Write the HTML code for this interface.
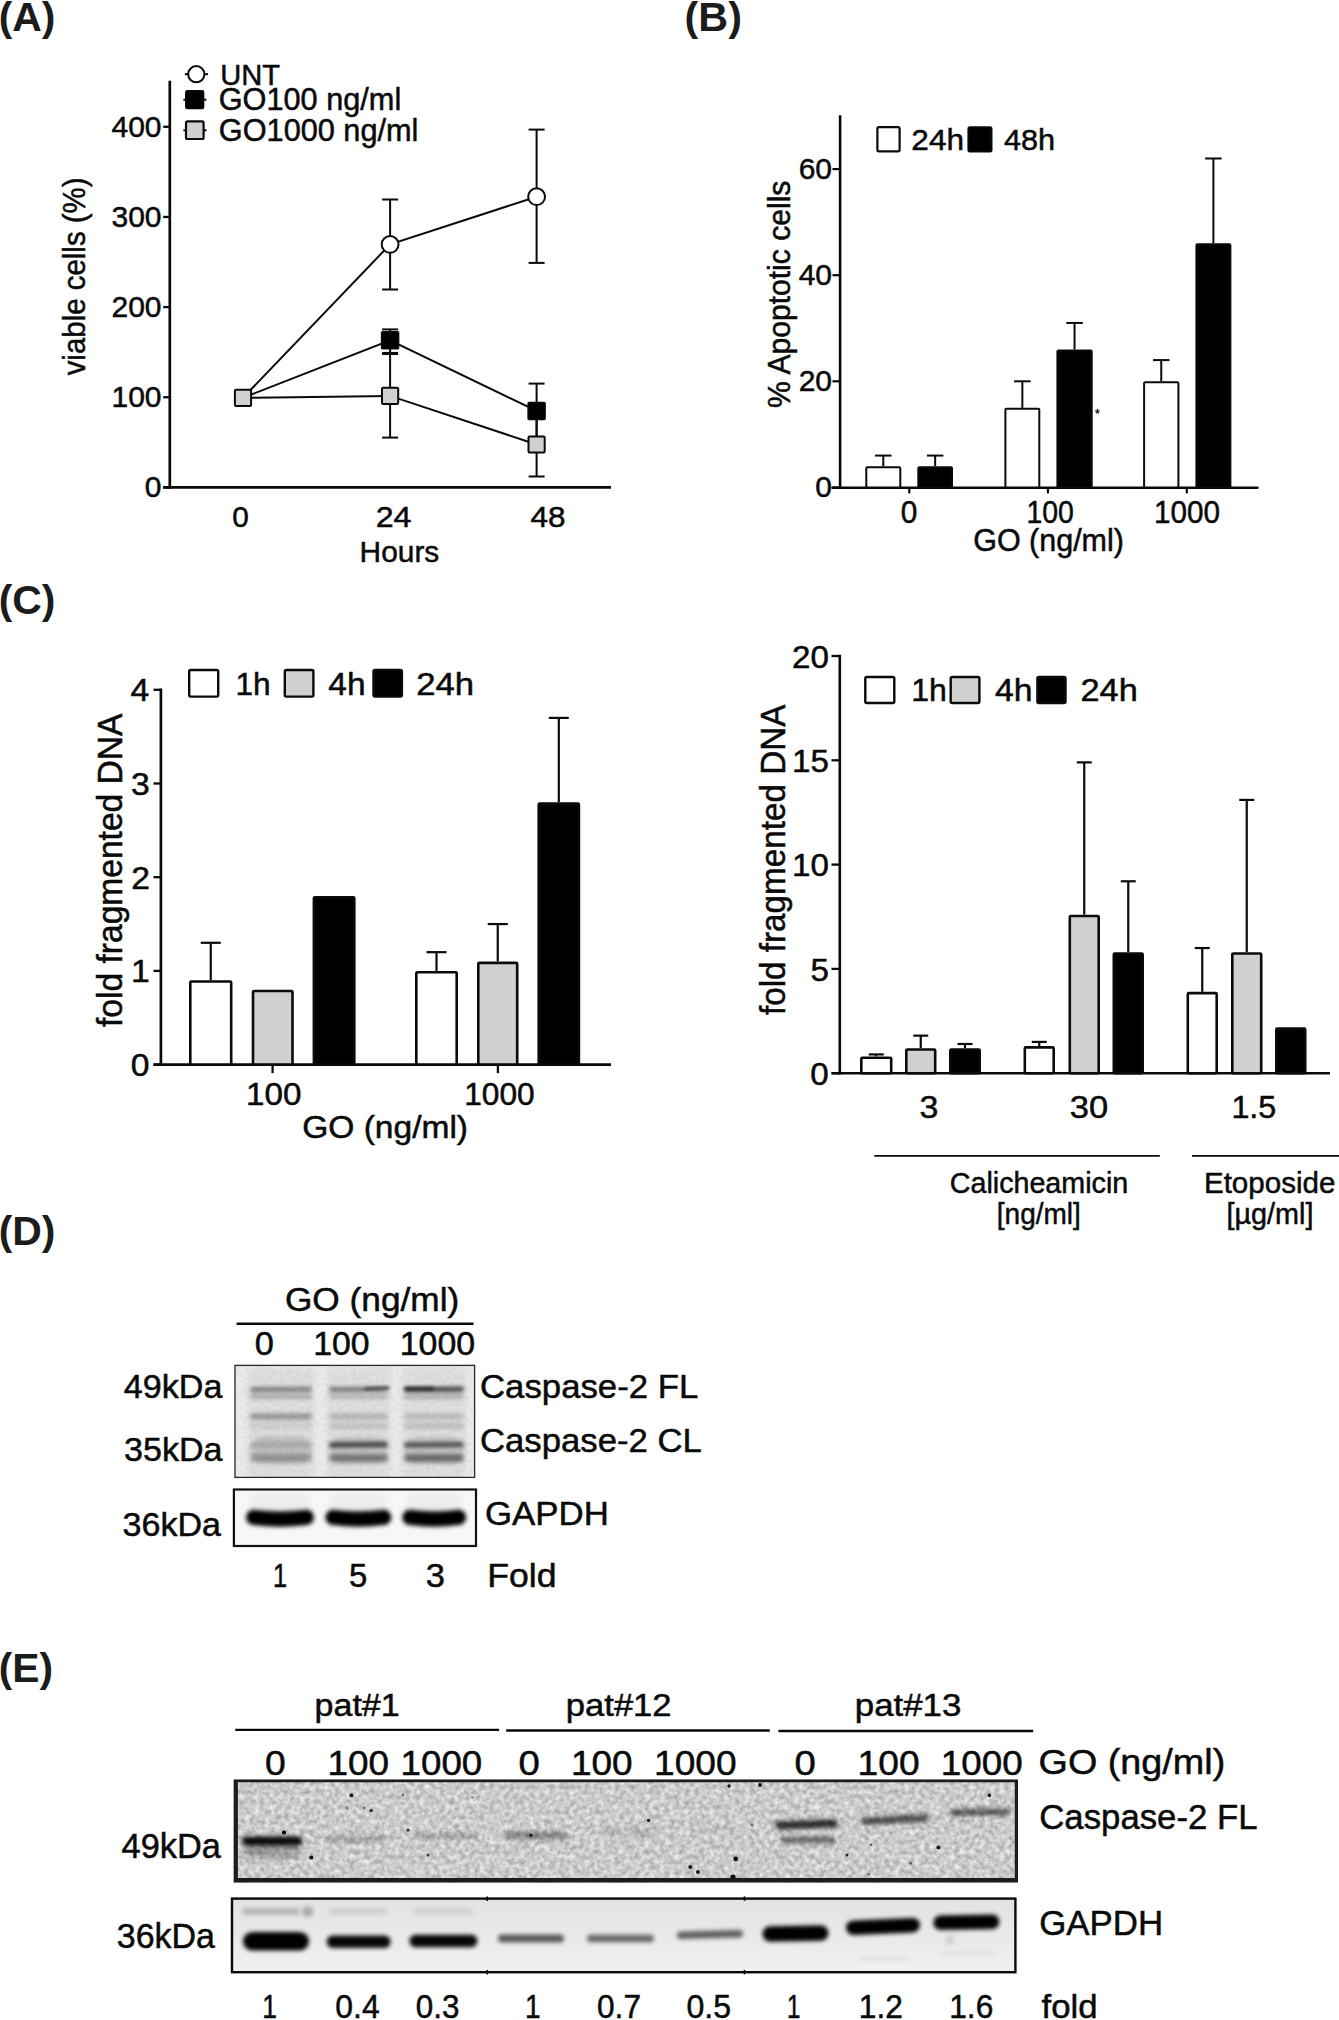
<!DOCTYPE html>
<html><head><meta charset="utf-8"><title>Figure</title>
<style>html,body{margin:0;padding:0;background:#fff}svg{display:block}</style></head><body>
<svg width="1339" height="2020" viewBox="0 0 1339 2020" font-family="Liberation Sans, sans-serif">
<defs>
<filter id="b1" x="-30%" y="-300%" width="160%" height="700%"><feGaussianBlur stdDeviation="1.2"/></filter>
<filter id="b2" x="-30%" y="-300%" width="160%" height="700%"><feGaussianBlur stdDeviation="2"/></filter>
<filter id="b3" x="-30%" y="-300%" width="160%" height="700%"><feGaussianBlur stdDeviation="3"/></filter>
<filter id="b5" x="-30%" y="-300%" width="160%" height="700%"><feGaussianBlur stdDeviation="5"/></filter>
<filter id="d1" x="-100%" y="-100%" width="300%" height="300%"><feGaussianBlur stdDeviation="0.6"/></filter>
<filter id="nz" x="0" y="0" width="100%" height="100%" color-interpolation-filters="sRGB"><feTurbulence type="fractalNoise" baseFrequency="0.2" numOctaves="2" seed="7"/><feColorMatrix type="matrix" values="0.42 0 0 0 0.585  0.42 0 0 0 0.585  0.42 0 0 0 0.585  0 0 0 0 1"/><feGaussianBlur stdDeviation="0.7"/></filter>
<filter id="nd" x="0" y="0" width="100%" height="100%" color-interpolation-filters="sRGB"><feTurbulence type="fractalNoise" baseFrequency="0.3" numOctaves="2" seed="11"/><feColorMatrix type="matrix" values="0.09 0 0 0 0.865  0.09 0 0 0 0.865  0.09 0 0 0 0.865  0 0 0 0 1"/><feGaussianBlur stdDeviation="0.6"/></filter>
<linearGradient id="ge2" x1="0" y1="0" x2="0" y2="1"><stop offset="0" stop-color="#e2e2e2"/><stop offset="1" stop-color="#f1f1f1"/></linearGradient>
</defs>
<rect x="0" y="0" width="1339" height="2020" fill="#fff"/>
<text font-size="41" text-anchor="start" fill="#1c1c1c" font-weight="bold" transform="translate(-1.35 30.60) scale(0.9983 1)">(A)</text>
<text font-size="41" text-anchor="start" fill="#1c1c1c" font-weight="bold" transform="translate(684.53 30.60) scale(1.0078 1)">(B)</text>
<text font-size="41" text-anchor="start" fill="#1c1c1c" font-weight="bold" transform="translate(-1.35 614.30) scale(0.9983 1)">(C)</text>
<text font-size="41" text-anchor="start" fill="#1c1c1c" font-weight="bold" transform="translate(-1.35 1244.80) scale(0.9983 1)">(D)</text>
<text font-size="41" text-anchor="start" fill="#1c1c1c" font-weight="bold" transform="translate(-1.34 1682.40) scale(0.9954 1)">(E)</text>
<line x1="169.80" y1="80.70" x2="169.80" y2="488.70" stroke="#0a0a0a" stroke-width="2.7" stroke-linecap="butt"/>
<line x1="163.20" y1="487.40" x2="611.00" y2="487.40" stroke="#0a0a0a" stroke-width="2.7" stroke-linecap="butt"/>
<line x1="163.20" y1="487.40" x2="169.80" y2="487.40" stroke="#0a0a0a" stroke-width="2.3" stroke-linecap="butt"/>
<text font-size="30" text-anchor="start" fill="#0a0a0a" stroke="#0a0a0a" stroke-width="0.5" transform="translate(144.80 497.10) scale(1.0000 1)">0</text>
<line x1="163.20" y1="397.25" x2="169.80" y2="397.25" stroke="#0a0a0a" stroke-width="2.3" stroke-linecap="butt"/>
<text font-size="30" text-anchor="start" fill="#0a0a0a" stroke="#0a0a0a" stroke-width="0.5" transform="translate(111.50 406.95) scale(1.0000 1)">100</text>
<line x1="163.20" y1="307.10" x2="169.80" y2="307.10" stroke="#0a0a0a" stroke-width="2.3" stroke-linecap="butt"/>
<text font-size="30" text-anchor="start" fill="#0a0a0a" stroke="#0a0a0a" stroke-width="0.5" transform="translate(111.50 316.80) scale(1.0000 1)">200</text>
<line x1="163.20" y1="216.95" x2="169.80" y2="216.95" stroke="#0a0a0a" stroke-width="2.3" stroke-linecap="butt"/>
<text font-size="30" text-anchor="start" fill="#0a0a0a" stroke="#0a0a0a" stroke-width="0.5" transform="translate(111.50 226.65) scale(1.0000 1)">300</text>
<line x1="163.20" y1="126.80" x2="169.80" y2="126.80" stroke="#0a0a0a" stroke-width="2.3" stroke-linecap="butt"/>
<text font-size="30" text-anchor="start" fill="#0a0a0a" stroke="#0a0a0a" stroke-width="0.5" transform="translate(111.50 136.50) scale(1.0000 1)">400</text>
<text font-size="31" text-anchor="start" fill="#0a0a0a" stroke="#0a0a0a" stroke-width="0.5" transform="translate(84.80 375.35) rotate(-90) scale(0.9500 1)">viable cells (%)</text>
<line x1="390.10" y1="199.50" x2="390.10" y2="289.50" stroke="#0a0a0a" stroke-width="2" stroke-linecap="butt"/>
<line x1="382.10" y1="199.50" x2="398.10" y2="199.50" stroke="#0a0a0a" stroke-width="2" stroke-linecap="butt"/>
<line x1="382.10" y1="289.50" x2="398.10" y2="289.50" stroke="#0a0a0a" stroke-width="2" stroke-linecap="butt"/>
<line x1="536.60" y1="129.60" x2="536.60" y2="262.90" stroke="#0a0a0a" stroke-width="2" stroke-linecap="butt"/>
<line x1="528.60" y1="129.60" x2="544.60" y2="129.60" stroke="#0a0a0a" stroke-width="2" stroke-linecap="butt"/>
<line x1="528.60" y1="262.90" x2="544.60" y2="262.90" stroke="#0a0a0a" stroke-width="2" stroke-linecap="butt"/>
<line x1="390.10" y1="329.40" x2="390.10" y2="352.90" stroke="#0a0a0a" stroke-width="2" stroke-linecap="butt"/>
<line x1="382.10" y1="329.40" x2="398.10" y2="329.40" stroke="#0a0a0a" stroke-width="2" stroke-linecap="butt"/>
<line x1="382.10" y1="352.90" x2="398.10" y2="352.90" stroke="#0a0a0a" stroke-width="2" stroke-linecap="butt"/>
<line x1="536.60" y1="383.60" x2="536.60" y2="438.00" stroke="#0a0a0a" stroke-width="2" stroke-linecap="butt"/>
<line x1="528.60" y1="383.60" x2="544.60" y2="383.60" stroke="#0a0a0a" stroke-width="2" stroke-linecap="butt"/>
<line x1="528.60" y1="438.00" x2="544.60" y2="438.00" stroke="#0a0a0a" stroke-width="2" stroke-linecap="butt"/>
<line x1="390.10" y1="354.00" x2="390.10" y2="437.60" stroke="#0a0a0a" stroke-width="2" stroke-linecap="butt"/>
<line x1="382.10" y1="354.00" x2="398.10" y2="354.00" stroke="#0a0a0a" stroke-width="2" stroke-linecap="butt"/>
<line x1="382.10" y1="437.60" x2="398.10" y2="437.60" stroke="#0a0a0a" stroke-width="2" stroke-linecap="butt"/>
<line x1="536.60" y1="412.50" x2="536.60" y2="476.50" stroke="#0a0a0a" stroke-width="2" stroke-linecap="butt"/>
<line x1="528.60" y1="412.50" x2="544.60" y2="412.50" stroke="#0a0a0a" stroke-width="2" stroke-linecap="butt"/>
<line x1="528.60" y1="476.50" x2="544.60" y2="476.50" stroke="#0a0a0a" stroke-width="2" stroke-linecap="butt"/>
<polyline points="243,397.8 390.1,244.4 536.6,196.7" fill="none" stroke="#0a0a0a" stroke-width="2"/>
<polyline points="243,397.8 390.1,340.3 536.6,410.9" fill="none" stroke="#0a0a0a" stroke-width="2"/>
<polyline points="243,397.8 390.1,395.9 536.6,444.5" fill="none" stroke="#0a0a0a" stroke-width="2"/>
<circle cx="390.1" cy="244.4" r="8.4" fill="#fff" stroke="#0a0a0a" stroke-width="2"/>
<circle cx="536.6" cy="196.7" r="8.4" fill="#fff" stroke="#0a0a0a" stroke-width="2"/>
<rect x="381.60" y="331.80" width="17.00" height="17.00" fill="#000" stroke="#0a0a0a" stroke-width="1.5" rx="1" />
<rect x="528.10" y="402.40" width="17.00" height="17.00" fill="#000" stroke="#0a0a0a" stroke-width="1.5" rx="1" />
<rect x="234.90" y="389.70" width="16.20" height="16.20" fill="#d0d0d0" stroke="#0a0a0a" stroke-width="2" rx="1" />
<rect x="382.00" y="387.80" width="16.20" height="16.20" fill="#d0d0d0" stroke="#0a0a0a" stroke-width="2" rx="1" />
<rect x="528.50" y="436.40" width="16.20" height="16.20" fill="#d0d0d0" stroke="#0a0a0a" stroke-width="2" rx="1" />
<line x1="184.80" y1="74.20" x2="208.00" y2="74.20" stroke="#0a0a0a" stroke-width="2" stroke-linecap="butt"/>
<circle cx="196.3" cy="74.2" r="8.1" fill="#fff" stroke="#0a0a0a" stroke-width="2"/>
<line x1="183.40" y1="99.70" x2="206.50" y2="99.70" stroke="#0a0a0a" stroke-width="2" stroke-linecap="butt"/>
<rect x="185.80" y="90.70" width="17.80" height="17.80" fill="#000" stroke="#0a0a0a" stroke-width="1.5" rx="1.5" />
<line x1="183.40" y1="130.30" x2="206.50" y2="130.30" stroke="#0a0a0a" stroke-width="2" stroke-linecap="butt"/>
<rect x="186.00" y="121.40" width="17.60" height="17.60" fill="#d0d0d0" stroke="#0a0a0a" stroke-width="2.2" rx="1.5" />
<text font-size="30.4" text-anchor="start" fill="#0a0a0a" stroke="#0a0a0a" stroke-width="0.5" transform="translate(220.22 84.60) scale(0.9583 1)">UNT</text>
<text font-size="30.6" text-anchor="start" fill="#0a0a0a" stroke="#0a0a0a" stroke-width="0.5" transform="translate(218.66 110.20) scale(1.0034 1)">GO100 ng/ml</text>
<text font-size="30.6" text-anchor="start" fill="#0a0a0a" stroke="#0a0a0a" stroke-width="0.5" transform="translate(218.87 140.80) scale(1.0032 1)">GO1000 ng/ml</text>
<text font-size="30" text-anchor="start" fill="#0a0a0a" stroke="#0a0a0a" stroke-width="0.5" transform="translate(232.21 526.90) scale(0.9931 1)">0</text>
<text font-size="30" text-anchor="start" fill="#0a0a0a" stroke="#0a0a0a" stroke-width="0.5" transform="translate(375.69 526.90) scale(1.0712 1)">24</text>
<text font-size="30" text-anchor="start" fill="#0a0a0a" stroke="#0a0a0a" stroke-width="0.5" transform="translate(530.47 526.90) scale(1.0508 1)">48</text>
<text font-size="30.4" text-anchor="start" fill="#0a0a0a" stroke="#0a0a0a" stroke-width="0.5" transform="translate(359.61 562.10) scale(0.9823 1)">Hours</text>
<line x1="840.10" y1="115.20" x2="840.10" y2="488.60" stroke="#0a0a0a" stroke-width="2.6" stroke-linecap="butt"/>
<line x1="832.50" y1="487.70" x2="1257.50" y2="487.70" stroke="#0a0a0a" stroke-width="2.4" stroke-linecap="round"/>
<line x1="832.50" y1="487.40" x2="840.10" y2="487.40" stroke="#0a0a0a" stroke-width="2.2" stroke-linecap="butt"/>
<text font-size="30" text-anchor="start" fill="#0a0a0a" stroke="#0a0a0a" stroke-width="0.5" transform="translate(815.30 497.10) scale(1.0000 1)">0</text>
<line x1="832.50" y1="381.30" x2="840.10" y2="381.30" stroke="#0a0a0a" stroke-width="2.2" stroke-linecap="butt"/>
<text font-size="30" text-anchor="start" fill="#0a0a0a" stroke="#0a0a0a" stroke-width="0.5" transform="translate(798.65 391.00) scale(1.0000 1)">20</text>
<line x1="832.50" y1="275.20" x2="840.10" y2="275.20" stroke="#0a0a0a" stroke-width="2.2" stroke-linecap="butt"/>
<text font-size="30" text-anchor="start" fill="#0a0a0a" stroke="#0a0a0a" stroke-width="0.5" transform="translate(798.65 284.90) scale(1.0000 1)">40</text>
<line x1="832.50" y1="169.10" x2="840.10" y2="169.10" stroke="#0a0a0a" stroke-width="2.2" stroke-linecap="butt"/>
<text font-size="30" text-anchor="start" fill="#0a0a0a" stroke="#0a0a0a" stroke-width="0.5" transform="translate(798.65 178.80) scale(1.0000 1)">60</text>
<line x1="909.30" y1="487.40" x2="909.30" y2="493.40" stroke="#0a0a0a" stroke-width="2.2" stroke-linecap="butt"/>
<line x1="1047.90" y1="487.40" x2="1047.90" y2="493.40" stroke="#0a0a0a" stroke-width="2.2" stroke-linecap="butt"/>
<line x1="1186.80" y1="487.40" x2="1186.80" y2="493.40" stroke="#0a0a0a" stroke-width="2.2" stroke-linecap="butt"/>
<text font-size="31.5" text-anchor="start" fill="#0a0a0a" stroke="#0a0a0a" stroke-width="0.5" transform="translate(789.50 408.05) rotate(-90) scale(0.9553 1)">% Apoptotic cells</text>
<line x1="883.30" y1="455.57" x2="883.30" y2="466.18" stroke="#0a0a0a" stroke-width="2" stroke-linecap="butt"/>
<line x1="875.05" y1="455.57" x2="891.55" y2="455.57" stroke="#0a0a0a" stroke-width="2" stroke-linecap="butt"/>
<rect x="866.30" y="467.18" width="34.00" height="20.22" fill="#fff" stroke="#0a0a0a" stroke-width="2" rx="1" />
<line x1="935.15" y1="455.57" x2="935.15" y2="466.18" stroke="#0a0a0a" stroke-width="2" stroke-linecap="butt"/>
<line x1="926.90" y1="455.57" x2="943.40" y2="455.57" stroke="#0a0a0a" stroke-width="2" stroke-linecap="butt"/>
<rect x="918.30" y="467.18" width="33.70" height="20.22" fill="#000" stroke="#0a0a0a" stroke-width="2" rx="1" />
<line x1="1022.35" y1="381.30" x2="1022.35" y2="407.82" stroke="#0a0a0a" stroke-width="2" stroke-linecap="butt"/>
<line x1="1014.10" y1="381.30" x2="1030.60" y2="381.30" stroke="#0a0a0a" stroke-width="2" stroke-linecap="butt"/>
<rect x="1005.40" y="408.82" width="33.90" height="78.57" fill="#fff" stroke="#0a0a0a" stroke-width="2" rx="1" />
<line x1="1074.55" y1="322.94" x2="1074.55" y2="349.47" stroke="#0a0a0a" stroke-width="2" stroke-linecap="butt"/>
<line x1="1066.30" y1="322.94" x2="1082.80" y2="322.94" stroke="#0a0a0a" stroke-width="2" stroke-linecap="butt"/>
<rect x="1057.40" y="350.47" width="34.30" height="136.93" fill="#000" stroke="#0a0a0a" stroke-width="2" rx="1" />
<line x1="1161.25" y1="360.08" x2="1161.25" y2="381.30" stroke="#0a0a0a" stroke-width="2" stroke-linecap="butt"/>
<line x1="1153.00" y1="360.08" x2="1169.50" y2="360.08" stroke="#0a0a0a" stroke-width="2" stroke-linecap="butt"/>
<rect x="1144.10" y="382.30" width="34.30" height="105.10" fill="#fff" stroke="#0a0a0a" stroke-width="2" rx="1" />
<line x1="1213.40" y1="158.49" x2="1213.40" y2="243.37" stroke="#0a0a0a" stroke-width="2" stroke-linecap="butt"/>
<line x1="1205.15" y1="158.49" x2="1221.65" y2="158.49" stroke="#0a0a0a" stroke-width="2" stroke-linecap="butt"/>
<rect x="1196.40" y="244.37" width="34.00" height="243.03" fill="#000" stroke="#0a0a0a" stroke-width="2" rx="1" />
<text font-size="12" text-anchor="middle" fill="#0a0a0a" stroke="#0a0a0a" stroke-width="0.3" transform="translate(1097.30 417.50)">*</text>
<rect x="877.40" y="127.20" width="22.20" height="24.10" fill="#fff" stroke="#0a0a0a" stroke-width="2.2" rx="1.5" />
<rect x="968.40" y="127.30" width="23.10" height="24.30" fill="#000" stroke="#0a0a0a" stroke-width="2" rx="1.5" />
<text font-size="30" text-anchor="start" fill="#0a0a0a" stroke="#0a0a0a" stroke-width="0.5" transform="translate(911.32 150.20) scale(1.0538 1)">24h</text>
<text font-size="30" text-anchor="start" fill="#0a0a0a" stroke="#0a0a0a" stroke-width="0.5" transform="translate(1003.99 150.20) scale(1.0211 1)">48h</text>
<text font-size="31.5" text-anchor="start" fill="#0a0a0a" stroke="#0a0a0a" stroke-width="0.5" transform="translate(900.81 522.90) scale(0.9458 1)">0</text>
<text font-size="31.5" text-anchor="start" fill="#0a0a0a" stroke="#0a0a0a" stroke-width="0.5" transform="translate(1026.47 522.90) scale(0.9024 1)">100</text>
<text font-size="31.5" text-anchor="start" fill="#0a0a0a" stroke="#0a0a0a" stroke-width="0.5" transform="translate(1153.97 522.90) scale(0.9426 1)">1000</text>
<text font-size="30.5" text-anchor="start" fill="#0a0a0a" stroke="#0a0a0a" stroke-width="0.5" transform="translate(973.18 550.50) scale(0.9999 1)">GO (ng/ml)</text>
<line x1="160.90" y1="688.40" x2="160.90" y2="1065.90" stroke="#0a0a0a" stroke-width="2.7" stroke-linecap="butt"/>
<line x1="153.50" y1="1064.60" x2="611.00" y2="1064.60" stroke="#0a0a0a" stroke-width="2.7" stroke-linecap="butt"/>
<line x1="153.50" y1="1064.60" x2="160.90" y2="1064.60" stroke="#0a0a0a" stroke-width="2.3" stroke-linecap="butt"/>
<text font-size="31.5" text-anchor="start" fill="#0a0a0a" stroke="#0a0a0a" stroke-width="0.5" transform="translate(130.77 1075.90) scale(1.0700 1)">0</text>
<line x1="153.50" y1="970.90" x2="160.90" y2="970.90" stroke="#0a0a0a" stroke-width="2.3" stroke-linecap="butt"/>
<text font-size="31.5" text-anchor="start" fill="#0a0a0a" stroke="#0a0a0a" stroke-width="0.5" transform="translate(131.11 982.20) scale(1.0700 1)">1</text>
<line x1="153.50" y1="877.20" x2="160.90" y2="877.20" stroke="#0a0a0a" stroke-width="2.3" stroke-linecap="butt"/>
<text font-size="31.5" text-anchor="start" fill="#0a0a0a" stroke="#0a0a0a" stroke-width="0.5" transform="translate(131.28 888.50) scale(1.0700 1)">2</text>
<line x1="153.50" y1="783.50" x2="160.90" y2="783.50" stroke="#0a0a0a" stroke-width="2.3" stroke-linecap="butt"/>
<text font-size="31.5" text-anchor="start" fill="#0a0a0a" stroke="#0a0a0a" stroke-width="0.5" transform="translate(130.94 794.80) scale(1.0700 1)">3</text>
<line x1="153.50" y1="689.80" x2="160.90" y2="689.80" stroke="#0a0a0a" stroke-width="2.3" stroke-linecap="butt"/>
<text font-size="31.5" text-anchor="start" fill="#0a0a0a" stroke="#0a0a0a" stroke-width="0.5" transform="translate(130.60 701.10) scale(1.0700 1)">4</text>
<line x1="272.60" y1="1064.60" x2="272.60" y2="1073.10" stroke="#0a0a0a" stroke-width="2.3" stroke-linecap="butt"/>
<line x1="497.90" y1="1064.60" x2="497.90" y2="1073.10" stroke="#0a0a0a" stroke-width="2.3" stroke-linecap="butt"/>
<text font-size="34.5" text-anchor="start" fill="#0a0a0a" stroke="#0a0a0a" stroke-width="0.5" transform="translate(121.60 1027.00) rotate(-90) scale(0.9734 1)">fold fragmented DNA</text>
<line x1="210.75" y1="942.79" x2="210.75" y2="980.27" stroke="#0a0a0a" stroke-width="2.2" stroke-linecap="butt"/>
<line x1="200.75" y1="942.79" x2="220.75" y2="942.79" stroke="#0a0a0a" stroke-width="2.2" stroke-linecap="butt"/>
<rect x="190.30" y="981.57" width="40.90" height="83.03" fill="#fff" stroke="#0a0a0a" stroke-width="2.6" rx="1" />
<rect x="253.00" y="990.94" width="39.50" height="73.66" fill="#d0d0d0" stroke="#0a0a0a" stroke-width="2.6" rx="1" />
<rect x="313.90" y="897.24" width="40.40" height="167.36" fill="#000" stroke="#0a0a0a" stroke-width="2.6" rx="1" />
<line x1="436.50" y1="952.16" x2="436.50" y2="970.90" stroke="#0a0a0a" stroke-width="2.2" stroke-linecap="butt"/>
<line x1="426.50" y1="952.16" x2="446.50" y2="952.16" stroke="#0a0a0a" stroke-width="2.2" stroke-linecap="butt"/>
<rect x="416.30" y="972.20" width="40.40" height="92.40" fill="#fff" stroke="#0a0a0a" stroke-width="2.6" rx="1" />
<line x1="497.75" y1="924.05" x2="497.75" y2="961.53" stroke="#0a0a0a" stroke-width="2.2" stroke-linecap="butt"/>
<line x1="487.75" y1="924.05" x2="507.75" y2="924.05" stroke="#0a0a0a" stroke-width="2.2" stroke-linecap="butt"/>
<rect x="478.30" y="962.83" width="38.90" height="101.77" fill="#d0d0d0" stroke="#0a0a0a" stroke-width="2.6" rx="1" />
<line x1="558.80" y1="717.91" x2="558.80" y2="802.24" stroke="#0a0a0a" stroke-width="2.2" stroke-linecap="butt"/>
<line x1="548.80" y1="717.91" x2="568.80" y2="717.91" stroke="#0a0a0a" stroke-width="2.2" stroke-linecap="butt"/>
<rect x="538.70" y="803.54" width="40.20" height="261.06" fill="#000" stroke="#0a0a0a" stroke-width="2.6" rx="1" />
<rect x="189.20" y="670.00" width="29.00" height="26.60" fill="#fff" stroke="#0a0a0a" stroke-width="2.4" rx="1.5" />
<rect x="284.80" y="670.00" width="28.60" height="26.60" fill="#d0d0d0" stroke="#0a0a0a" stroke-width="2.4" rx="1.5" />
<rect x="373.50" y="670.00" width="28.40" height="26.60" fill="#000" stroke="#0a0a0a" stroke-width="2.4" rx="1.5" />
<text font-size="32" text-anchor="start" fill="#0a0a0a" stroke="#0a0a0a" stroke-width="0.5" transform="translate(235.53 694.80) scale(0.9890 1)">1h</text>
<text font-size="32" text-anchor="start" fill="#0a0a0a" stroke="#0a0a0a" stroke-width="0.5" transform="translate(328.33 694.80) scale(1.0457 1)">4h</text>
<text font-size="32" text-anchor="start" fill="#0a0a0a" stroke="#0a0a0a" stroke-width="0.5" transform="translate(416.26 694.80) scale(1.0847 1)">24h</text>
<text font-size="30.8" text-anchor="start" fill="#0a0a0a" stroke="#0a0a0a" stroke-width="0.5" transform="translate(246.01 1104.70) scale(1.0795 1)">100</text>
<text font-size="30.8" text-anchor="start" fill="#0a0a0a" stroke="#0a0a0a" stroke-width="0.5" transform="translate(464.22 1104.70) scale(1.0285 1)">1000</text>
<text font-size="30.5" text-anchor="start" fill="#0a0a0a" stroke="#0a0a0a" stroke-width="0.5" transform="translate(302.22 1138.30) scale(1.0997 1)">GO (ng/ml)</text>
<line x1="839.80" y1="654.80" x2="839.80" y2="1074.50" stroke="#0a0a0a" stroke-width="2.6" stroke-linecap="butt"/>
<line x1="831.50" y1="1073.20" x2="1330.00" y2="1073.20" stroke="#0a0a0a" stroke-width="2.6" stroke-linecap="butt"/>
<line x1="831.50" y1="1073.20" x2="839.80" y2="1073.20" stroke="#0a0a0a" stroke-width="2.3" stroke-linecap="butt"/>
<text font-size="31.3" text-anchor="start" fill="#0a0a0a" stroke="#0a0a0a" stroke-width="0.5" transform="translate(810.35 1084.80) scale(1.0600 1)">0</text>
<line x1="831.50" y1="968.90" x2="839.80" y2="968.90" stroke="#0a0a0a" stroke-width="2.3" stroke-linecap="butt"/>
<text font-size="31.3" text-anchor="start" fill="#0a0a0a" stroke="#0a0a0a" stroke-width="0.5" transform="translate(810.51 980.50) scale(1.0600 1)">5</text>
<line x1="831.50" y1="864.60" x2="839.80" y2="864.60" stroke="#0a0a0a" stroke-width="2.3" stroke-linecap="butt"/>
<text font-size="31.3" text-anchor="start" fill="#0a0a0a" stroke="#0a0a0a" stroke-width="0.5" transform="translate(791.93 876.20) scale(1.0600 1)">10</text>
<line x1="831.50" y1="760.30" x2="839.80" y2="760.30" stroke="#0a0a0a" stroke-width="2.3" stroke-linecap="butt"/>
<text font-size="31.3" text-anchor="start" fill="#0a0a0a" stroke="#0a0a0a" stroke-width="0.5" transform="translate(792.10 771.90) scale(1.0600 1)">15</text>
<line x1="831.50" y1="656.00" x2="839.80" y2="656.00" stroke="#0a0a0a" stroke-width="2.3" stroke-linecap="butt"/>
<text font-size="31.3" text-anchor="start" fill="#0a0a0a" stroke="#0a0a0a" stroke-width="0.5" transform="translate(791.93 667.60) scale(1.0600 1)">20</text>
<text font-size="34.5" text-anchor="start" fill="#0a0a0a" stroke="#0a0a0a" stroke-width="0.5" transform="translate(785.20 1015.10) rotate(-90) scale(0.9641 1)">fold fragmented DNA</text>
<line x1="876.25" y1="1054.43" x2="876.25" y2="1056.51" stroke="#0a0a0a" stroke-width="2.2" stroke-linecap="butt"/>
<line x1="868.75" y1="1054.43" x2="883.75" y2="1054.43" stroke="#0a0a0a" stroke-width="2.2" stroke-linecap="butt"/>
<rect x="861.30" y="1057.81" width="29.90" height="15.39" fill="#fff" stroke="#0a0a0a" stroke-width="2.6" rx="1" />
<line x1="920.75" y1="1035.65" x2="920.75" y2="1048.17" stroke="#0a0a0a" stroke-width="2.2" stroke-linecap="butt"/>
<line x1="913.25" y1="1035.65" x2="928.25" y2="1035.65" stroke="#0a0a0a" stroke-width="2.2" stroke-linecap="butt"/>
<rect x="906.30" y="1049.47" width="28.90" height="23.73" fill="#d0d0d0" stroke="#0a0a0a" stroke-width="2.6" rx="1" />
<line x1="965.00" y1="1044.00" x2="965.00" y2="1048.17" stroke="#0a0a0a" stroke-width="2.2" stroke-linecap="butt"/>
<line x1="957.50" y1="1044.00" x2="972.50" y2="1044.00" stroke="#0a0a0a" stroke-width="2.2" stroke-linecap="butt"/>
<rect x="950.30" y="1049.47" width="29.40" height="23.73" fill="#000" stroke="#0a0a0a" stroke-width="2.6" rx="1" />
<line x1="1039.25" y1="1041.91" x2="1039.25" y2="1046.08" stroke="#0a0a0a" stroke-width="2.2" stroke-linecap="butt"/>
<line x1="1031.75" y1="1041.91" x2="1046.75" y2="1041.91" stroke="#0a0a0a" stroke-width="2.2" stroke-linecap="butt"/>
<rect x="1024.80" y="1047.38" width="28.90" height="25.82" fill="#fff" stroke="#0a0a0a" stroke-width="2.6" rx="1" />
<line x1="1084.25" y1="762.39" x2="1084.25" y2="914.66" stroke="#0a0a0a" stroke-width="2.2" stroke-linecap="butt"/>
<line x1="1076.75" y1="762.39" x2="1091.75" y2="762.39" stroke="#0a0a0a" stroke-width="2.2" stroke-linecap="butt"/>
<rect x="1069.80" y="915.96" width="28.90" height="157.24" fill="#d0d0d0" stroke="#0a0a0a" stroke-width="2.6" rx="1" />
<line x1="1128.25" y1="881.29" x2="1128.25" y2="952.21" stroke="#0a0a0a" stroke-width="2.2" stroke-linecap="butt"/>
<line x1="1120.75" y1="881.29" x2="1135.75" y2="881.29" stroke="#0a0a0a" stroke-width="2.2" stroke-linecap="butt"/>
<rect x="1113.80" y="953.51" width="28.90" height="119.69" fill="#000" stroke="#0a0a0a" stroke-width="2.6" rx="1" />
<line x1="1202.25" y1="948.04" x2="1202.25" y2="991.85" stroke="#0a0a0a" stroke-width="2.2" stroke-linecap="butt"/>
<line x1="1194.75" y1="948.04" x2="1209.75" y2="948.04" stroke="#0a0a0a" stroke-width="2.2" stroke-linecap="butt"/>
<rect x="1187.80" y="993.15" width="28.90" height="80.05" fill="#fff" stroke="#0a0a0a" stroke-width="2.6" rx="1" />
<line x1="1246.75" y1="799.93" x2="1246.75" y2="952.21" stroke="#0a0a0a" stroke-width="2.2" stroke-linecap="butt"/>
<line x1="1239.25" y1="799.93" x2="1254.25" y2="799.93" stroke="#0a0a0a" stroke-width="2.2" stroke-linecap="butt"/>
<rect x="1232.30" y="953.51" width="28.90" height="119.69" fill="#d0d0d0" stroke="#0a0a0a" stroke-width="2.6" rx="1" />
<rect x="1276.30" y="1028.61" width="28.90" height="44.59" fill="#000" stroke="#0a0a0a" stroke-width="2.6" rx="1" />
<rect x="865.30" y="677.00" width="29.00" height="26.00" fill="#fff" stroke="#0a0a0a" stroke-width="2.4" rx="1.5" />
<rect x="950.70" y="677.00" width="28.70" height="26.00" fill="#d0d0d0" stroke="#0a0a0a" stroke-width="2.4" rx="1.5" />
<rect x="1037.40" y="677.00" width="28.10" height="26.00" fill="#000" stroke="#0a0a0a" stroke-width="2.4" rx="1.5" />
<text font-size="31.5" text-anchor="start" fill="#0a0a0a" stroke="#0a0a0a" stroke-width="0.5" transform="translate(911.30 701.20) scale(1.0178 1)">1h</text>
<text font-size="31.5" text-anchor="start" fill="#0a0a0a" stroke="#0a0a0a" stroke-width="0.5" transform="translate(994.92 701.20) scale(1.0716 1)">4h</text>
<text font-size="31.5" text-anchor="start" fill="#0a0a0a" stroke="#0a0a0a" stroke-width="0.5" transform="translate(1080.48 701.20) scale(1.0896 1)">24h</text>
<text font-size="31.3" text-anchor="start" fill="#0a0a0a" stroke="#0a0a0a" stroke-width="0.5" transform="translate(919.44 1118.40) scale(1.0829 1)">3</text>
<text font-size="31.3" text-anchor="start" fill="#0a0a0a" stroke="#0a0a0a" stroke-width="0.5" transform="translate(1069.72 1118.40) scale(1.1020 1)">30</text>
<text font-size="31.3" text-anchor="start" fill="#0a0a0a" stroke="#0a0a0a" stroke-width="0.5" transform="translate(1231.38 1118.40) scale(1.0324 1)">1.5</text>
<line x1="874.30" y1="1155.80" x2="1159.80" y2="1155.80" stroke="#0a0a0a" stroke-width="1.7" stroke-linecap="butt"/>
<line x1="1192.00" y1="1155.80" x2="1339.00" y2="1155.80" stroke="#0a0a0a" stroke-width="1.7" stroke-linecap="butt"/>
<text font-size="29.6" text-anchor="start" fill="#0a0a0a" stroke="#0a0a0a" stroke-width="0.5" transform="translate(949.77 1192.70) scale(0.9693 1)">Calicheamicin</text>
<text font-size="29.6" text-anchor="start" fill="#0a0a0a" stroke="#0a0a0a" stroke-width="0.5" transform="translate(996.84 1223.90) scale(0.9462 1)">[ng/ml]</text>
<text font-size="29.6" text-anchor="start" fill="#0a0a0a" stroke="#0a0a0a" stroke-width="0.5" transform="translate(1203.94 1192.70) scale(0.9987 1)">Etoposide</text>
<text font-size="29.6" text-anchor="start" fill="#0a0a0a" stroke="#0a0a0a" stroke-width="0.5" transform="translate(1226.48 1223.90) scale(0.9736 1)">[µg/ml]</text>
<text font-size="33.4" text-anchor="start" fill="#0a0a0a" stroke="#0a0a0a" stroke-width="0.5" transform="translate(284.94 1311.00) scale(1.0557 1)">GO (ng/ml)</text>
<line x1="236.50" y1="1323.80" x2="473.60" y2="1323.80" stroke="#0a0a0a" stroke-width="2.5" stroke-linecap="butt"/>
<text font-size="32.4" text-anchor="start" fill="#0a0a0a" stroke="#0a0a0a" stroke-width="0.5" transform="translate(254.82 1355.10) scale(1.0610 1)">0</text>
<text font-size="32.4" text-anchor="start" fill="#0a0a0a" stroke="#0a0a0a" stroke-width="0.5" transform="translate(313.16 1355.10) scale(1.0440 1)">100</text>
<text font-size="32.4" text-anchor="start" fill="#0a0a0a" stroke="#0a0a0a" stroke-width="0.5" transform="translate(399.76 1355.10) scale(1.0463 1)">1000</text>
<text font-size="33" text-anchor="start" fill="#0a0a0a" stroke="#0a0a0a" stroke-width="0.5" transform="translate(123.82 1397.60) scale(1.0347 1)">49kDa</text>
<text font-size="33" text-anchor="start" fill="#0a0a0a" stroke="#0a0a0a" stroke-width="0.5" transform="translate(124.04 1461.40) scale(1.0324 1)">35kDa</text>
<text font-size="33" text-anchor="start" fill="#0a0a0a" stroke="#0a0a0a" stroke-width="0.5" transform="translate(122.54 1536.00) scale(1.0324 1)">36kDa</text>
<text font-size="33.6" text-anchor="start" fill="#0a0a0a" stroke="#0a0a0a" stroke-width="0.5" transform="translate(479.96 1397.60) scale(1.0349 1)">Caspase-2 FL</text>
<text font-size="33.6" text-anchor="start" fill="#0a0a0a" stroke="#0a0a0a" stroke-width="0.5" transform="translate(479.96 1451.90) scale(1.0334 1)">Caspase-2 CL</text>
<text font-size="33.6" text-anchor="start" fill="#0a0a0a" stroke="#0a0a0a" stroke-width="0.5" transform="translate(485.06 1524.80) scale(1.0358 1)">GAPDH</text>
<text font-size="32.5" text-anchor="start" fill="#0a0a0a" stroke="#0a0a0a" stroke-width="0.5" transform="translate(272.90 1587.20) scale(0.7781 1)">1</text>
<text font-size="32.5" text-anchor="start" fill="#0a0a0a" stroke="#0a0a0a" stroke-width="0.5" transform="translate(348.99 1587.20) scale(1.0105 1)">5</text>
<text font-size="32.5" text-anchor="start" fill="#0a0a0a" stroke="#0a0a0a" stroke-width="0.5" transform="translate(425.72 1587.20) scale(1.0623 1)">3</text>
<text font-size="33.6" text-anchor="start" fill="#0a0a0a" stroke="#0a0a0a" stroke-width="0.5" transform="translate(487.25 1587.30) scale(1.0599 1)">Fold</text>
<clipPath id="cd1"><rect x="234.4" y="1364.8" width="240.79999999999998" height="113.20000000000005"/></clipPath>
<g clip-path="url(#cd1)">
<rect x="234.4" y="1364.8" width="240.79999999999998" height="113.20000000000005" filter="url(#nd)" fill="#e8e8e8"/>
<rect x="248.0" y="1367.0" width="66.0" height="112.0" rx="2.0" fill="#000" opacity="0.05" filter="url(#b3)"/>
<rect x="327.0" y="1367.0" width="63.0" height="112.0" rx="2.0" fill="#000" opacity="0.05" filter="url(#b3)"/>
<rect x="402.0" y="1367.0" width="64.0" height="112.0" rx="2.0" fill="#000" opacity="0.05" filter="url(#b3)"/>
<rect x="250.0" y="1387.2" width="62.0" height="4.2" rx="2.1" fill="#000" opacity="0.52" filter="url(#b2)" transform="rotate(-0.5 281 1389.3)"/>
<rect x="329.0" y="1387.2" width="59.0" height="4.2" rx="2.1" fill="#000" opacity="0.55" filter="url(#b2)" transform="rotate(-0.5 358.5 1389.3)"/>
<rect x="404.0" y="1387.2" width="60.0" height="4.2" rx="2.1" fill="#000" opacity="0.85" filter="url(#b2)" transform="rotate(-0.5 434 1389.3)"/>
<rect x="250.0" y="1394.2" width="62.0" height="4.5" rx="2.2" fill="#000" opacity="0.26" filter="url(#b2)"/>
<rect x="329.0" y="1394.2" width="59.0" height="4.5" rx="2.2" fill="#000" opacity="0.2" filter="url(#b2)"/>
<rect x="404.0" y="1394.2" width="60.0" height="4.5" rx="2.2" fill="#000" opacity="0.24" filter="url(#b2)"/>
<rect x="250.0" y="1413.5" width="62.0" height="6.0" rx="3.0" fill="#000" opacity="0.34" filter="url(#b2)"/>
<rect x="329.0" y="1413.5" width="59.0" height="6.0" rx="3.0" fill="#000" opacity="0.2" filter="url(#b2)"/>
<rect x="404.0" y="1413.5" width="60.0" height="6.0" rx="3.0" fill="#000" opacity="0.17" filter="url(#b2)"/>
<rect x="250.0" y="1423.0" width="62.0" height="6.0" rx="3.0" fill="#000" opacity="0.08" filter="url(#b2)"/>
<rect x="329.0" y="1423.0" width="59.0" height="6.0" rx="3.0" fill="#000" opacity="0.13" filter="url(#b2)"/>
<rect x="404.0" y="1423.0" width="60.0" height="6.0" rx="3.0" fill="#000" opacity="0.15" filter="url(#b2)"/>
<rect x="250.0" y="1442.3" width="62.0" height="5.0" rx="2.5" fill="#000" opacity="0.14" filter="url(#b2)" transform="rotate(-0.5 281 1444.8)"/>
<rect x="329.0" y="1442.3" width="59.0" height="5.0" rx="2.5" fill="#000" opacity="0.74" filter="url(#b2)" transform="rotate(-0.5 358.5 1444.8)"/>
<rect x="404.0" y="1442.3" width="60.0" height="5.0" rx="2.5" fill="#000" opacity="0.66" filter="url(#b2)" transform="rotate(-0.5 434 1444.8)"/>
<rect x="250.0" y="1454.0" width="62.0" height="8.0" rx="4.0" fill="#000" opacity="0.24" filter="url(#b2)"/>
<rect x="329.0" y="1454.0" width="59.0" height="8.0" rx="4.0" fill="#000" opacity="0.4" filter="url(#b2)"/>
<rect x="404.0" y="1454.0" width="60.0" height="8.0" rx="4.0" fill="#000" opacity="0.46" filter="url(#b2)"/>
<rect x="250.0" y="1436.0" width="62.0" height="28.0" rx="14.0" fill="#000" opacity="0.13" filter="url(#b2)"/>
<rect x="329.0" y="1436.0" width="59.0" height="28.0" rx="14.0" fill="#000" opacity="0.1" filter="url(#b2)"/>
<rect x="404.0" y="1436.0" width="60.0" height="28.0" rx="14.0" fill="#000" opacity="0.1" filter="url(#b2)"/>
<rect x="364.0" y="1386.2" width="26.0" height="4.0" rx="2.0" fill="#000" opacity="0.35" filter="url(#b1)" transform="rotate(-3 377 1388.2)"/>
<rect x="404.0" y="1386.3" width="30.0" height="4.5" rx="2.2" fill="#000" opacity="0.4" filter="url(#b1)"/>
</g>
<rect x="235.00" y="1365.40" width="239.60" height="112.00" fill="none" stroke="#2a2a2a" stroke-width="1.3" rx="0" />
<rect x="233.90" y="1489.50" width="242.10" height="56.50" fill="#f7f7f7" stroke="#111" stroke-width="2.2" rx="0" />
<rect x="250.0" y="1493.0" width="60.0" height="26.0" rx="3.0" fill="#000" opacity="0.035" filter="url(#b3)"/>
<path d="M253.6 1509.8 Q280.0 1513.2 306.4 1509.8 A7.6 7.6 0 0 1 306.4 1525.0 Q280.0 1528.4 253.6 1525.0 A7.6 7.6 0 0 1 253.6 1509.8Z" fill="#000" opacity="1" filter="url(#b2)"/>
<rect x="329.4" y="1493.0" width="58.0" height="26.0" rx="3.0" fill="#000" opacity="0.035" filter="url(#b3)"/>
<path d="M333.0 1509.8 Q358.4 1513.2 383.8 1509.8 A7.6 7.6 0 0 1 383.8 1525.0 Q358.4 1528.4 333.0 1525.0 A7.6 7.6 0 0 1 333.0 1509.8Z" fill="#000" opacity="1" filter="url(#b2)"/>
<rect x="406.2" y="1493.0" width="56.0" height="26.0" rx="3.0" fill="#000" opacity="0.035" filter="url(#b3)"/>
<path d="M409.8 1509.8 Q434.2 1513.2 458.6 1509.8 A7.6 7.6 0 0 1 458.6 1525.0 Q434.2 1528.4 409.8 1525.0 A7.6 7.6 0 0 1 409.8 1509.8Z" fill="#000" opacity="1" filter="url(#b2)"/>
<text font-size="31.6" text-anchor="start" fill="#0a0a0a" stroke="#0a0a0a" stroke-width="0.5" transform="translate(314.59 1716.40) scale(1.0765 1)">pat#1</text>
<text font-size="31.6" text-anchor="start" fill="#0a0a0a" stroke="#0a0a0a" stroke-width="0.5" transform="translate(565.85 1716.40) scale(1.0939 1)">pat#12</text>
<text font-size="31.6" text-anchor="start" fill="#0a0a0a" stroke="#0a0a0a" stroke-width="0.5" transform="translate(854.84 1716.40) scale(1.1020 1)">pat#13</text>
<line x1="235.20" y1="1729.90" x2="499.10" y2="1729.90" stroke="#0a0a0a" stroke-width="2.4" stroke-linecap="butt"/>
<line x1="506.20" y1="1730.50" x2="769.80" y2="1730.50" stroke="#0a0a0a" stroke-width="2.4" stroke-linecap="butt"/>
<line x1="778.40" y1="1731.00" x2="1033.20" y2="1731.00" stroke="#0a0a0a" stroke-width="2.4" stroke-linecap="butt"/>
<text font-size="35" text-anchor="start" fill="#0a0a0a" stroke="#0a0a0a" stroke-width="0.5" transform="translate(264.91 1774.70) scale(1.0655 1)">0</text>
<text font-size="35" text-anchor="start" fill="#0a0a0a" stroke="#0a0a0a" stroke-width="0.5" transform="translate(327.43 1774.70) scale(1.0547 1)">100</text>
<text font-size="35" text-anchor="start" fill="#0a0a0a" stroke="#0a0a0a" stroke-width="0.5" transform="translate(400.54 1774.70) scale(1.0496 1)">1000</text>
<text font-size="35" text-anchor="start" fill="#0a0a0a" stroke="#0a0a0a" stroke-width="0.5" transform="translate(518.57 1774.70) scale(1.0952 1)">0</text>
<text font-size="35" text-anchor="start" fill="#0a0a0a" stroke="#0a0a0a" stroke-width="0.5" transform="translate(570.93 1774.70) scale(1.0565 1)">100</text>
<text font-size="35" text-anchor="start" fill="#0a0a0a" stroke="#0a0a0a" stroke-width="0.5" transform="translate(654.02 1774.70) scale(1.0605 1)">1000</text>
<text font-size="35" text-anchor="start" fill="#0a0a0a" stroke="#0a0a0a" stroke-width="0.5" transform="translate(794.57 1774.70) scale(1.0952 1)">0</text>
<text font-size="35" text-anchor="start" fill="#0a0a0a" stroke="#0a0a0a" stroke-width="0.5" transform="translate(857.61 1774.70) scale(1.0620 1)">100</text>
<text font-size="35" text-anchor="start" fill="#0a0a0a" stroke="#0a0a0a" stroke-width="0.5" transform="translate(940.74 1774.70) scale(1.0523 1)">1000</text>
<text font-size="35.5" text-anchor="start" fill="#0a0a0a" stroke="#0a0a0a" stroke-width="0.5" transform="translate(1038.61 1773.80) scale(1.0638 1)">GO (ng/ml)</text>
<text font-size="34.5" text-anchor="start" fill="#0a0a0a" stroke="#0a0a0a" stroke-width="0.5" transform="translate(121.61 1858.00) scale(0.9958 1)">49kDa</text>
<text font-size="34.5" text-anchor="start" fill="#0a0a0a" stroke="#0a0a0a" stroke-width="0.5" transform="translate(116.74 1947.50) scale(0.9855 1)">36kDa</text>
<text font-size="35.5" text-anchor="start" fill="#0a0a0a" stroke="#0a0a0a" stroke-width="0.5" transform="translate(1039.26 1828.50) scale(0.9791 1)">Caspase-2 FL</text>
<text font-size="35.5" text-anchor="start" fill="#0a0a0a" stroke="#0a0a0a" stroke-width="0.5" transform="translate(1039.26 1935.00) scale(0.9812 1)">GAPDH</text>
<text font-size="32.5" text-anchor="start" fill="#0a0a0a" stroke="#0a0a0a" stroke-width="0.5" transform="translate(262.32 2018.30) scale(0.8134 1)">1</text>
<text font-size="32.5" text-anchor="start" fill="#0a0a0a" stroke="#0a0a0a" stroke-width="0.5" transform="translate(335.32 2018.30) scale(0.9814 1)">0.4</text>
<text font-size="32.5" text-anchor="start" fill="#0a0a0a" stroke="#0a0a0a" stroke-width="0.5" transform="translate(415.85 2018.30) scale(0.9654 1)">0.3</text>
<text font-size="32.5" text-anchor="start" fill="#0a0a0a" stroke="#0a0a0a" stroke-width="0.5" transform="translate(524.90 2018.30) scale(0.8630 1)">1</text>
<text font-size="32.5" text-anchor="start" fill="#0a0a0a" stroke="#0a0a0a" stroke-width="0.5" transform="translate(597.04 2018.30) scale(0.9728 1)">0.7</text>
<text font-size="32.5" text-anchor="start" fill="#0a0a0a" stroke="#0a0a0a" stroke-width="0.5" transform="translate(686.41 2018.30) scale(0.9888 1)">0.5</text>
<text font-size="32.5" text-anchor="start" fill="#0a0a0a" stroke="#0a0a0a" stroke-width="0.5" transform="translate(787.09 2018.30) scale(0.7427 1)">1</text>
<text font-size="32.5" text-anchor="start" fill="#0a0a0a" stroke="#0a0a0a" stroke-width="0.5" transform="translate(858.82 2018.30) scale(0.9754 1)">1.2</text>
<text font-size="32.5" text-anchor="start" fill="#0a0a0a" stroke="#0a0a0a" stroke-width="0.5" transform="translate(949.22 2018.30) scale(0.9750 1)">1.6</text>
<text font-size="33.5" text-anchor="start" fill="#0a0a0a" stroke="#0a0a0a" stroke-width="0.5" transform="translate(1041.48 2018.30) scale(1.0379 1)">fold</text>
<clipPath id="ce1"><rect x="233.7" y="1779.4" width="784.3" height="103.09999999999991"/></clipPath>
<g clip-path="url(#ce1)">
<rect x="233.7" y="1779.4" width="784.3" height="103.09999999999991" filter="url(#nz)" fill="#ccc"/>
<rect x="242.0" y="1836.5" width="60.0" height="9.0" rx="4.5" fill="#000" opacity="0.95" filter="url(#b2)"/>
<rect x="244.0" y="1842.0" width="56.0" height="16.0" rx="8.0" fill="#000" opacity="0.25" filter="url(#b3)"/>
<rect x="327.0" y="1836.0" width="58.0" height="6.0" rx="3.0" fill="#000" opacity="0.22" filter="url(#b2)"/>
<rect x="413.0" y="1833.0" width="64.0" height="6.0" rx="3.0" fill="#000" opacity="0.2" filter="url(#b2)"/>
<rect x="505.0" y="1832.0" width="62.0" height="7.0" rx="3.5" fill="#000" opacity="0.38" filter="url(#b2)"/>
<rect x="603.0" y="1829.0" width="56.0" height="6.0" rx="3.0" fill="#000" opacity="0.13" filter="url(#b2)"/>
<rect x="690.0" y="1826.0" width="46.0" height="6.0" rx="3.0" fill="#000" opacity="0.07" filter="url(#b2)"/>
<rect x="775.5" y="1820.5" width="62.0" height="8.0" rx="4.0" fill="#000" opacity="0.8" filter="url(#b2)" transform="rotate(-2 806.5 1824.5)"/>
<rect x="781.0" y="1836.8" width="54.0" height="6.5" rx="3.2" fill="#000" opacity="0.5" filter="url(#b2)"/>
<rect x="861.0" y="1815.8" width="68.0" height="7.5" rx="3.8" fill="#000" opacity="0.62" filter="url(#b2)" transform="rotate(-3 895 1819.5)"/>
<rect x="950.0" y="1808.8" width="60.0" height="7.0" rx="3.5" fill="#000" opacity="0.55" filter="url(#b2)" transform="rotate(-1 980 1812.3)"/>
<circle cx="351.4" cy="1795.4" r="1.9" fill="#000" opacity="0.9" filter="url(#d1)"/>
<circle cx="371.1" cy="1810.6" r="1.6" fill="#000" opacity="0.8" filter="url(#d1)"/>
<circle cx="284" cy="1832.6" r="2.1" fill="#000" opacity="0.95" filter="url(#d1)"/>
<circle cx="311.3" cy="1857.6" r="2" fill="#000" opacity="0.9" filter="url(#d1)"/>
<circle cx="408" cy="1830" r="1.5" fill="#000" opacity="0.75" filter="url(#d1)"/>
<circle cx="428" cy="1855" r="1.5" fill="#000" opacity="0.7" filter="url(#d1)"/>
<circle cx="403" cy="1795" r="1.2" fill="#000" opacity="0.5" filter="url(#d1)"/>
<circle cx="472.3" cy="1797.4" r="1.1" fill="#000" opacity="0.5" filter="url(#d1)"/>
<circle cx="530.9" cy="1835.2" r="1.8" fill="#000" opacity="0.8" filter="url(#d1)"/>
<circle cx="648.6" cy="1820.4" r="1.7" fill="#000" opacity="0.9" filter="url(#d1)"/>
<circle cx="729" cy="1786" r="1.7" fill="#000" opacity="0.9" filter="url(#d1)"/>
<circle cx="760" cy="1785" r="1.9" fill="#000" opacity="0.9" filter="url(#d1)"/>
<circle cx="735.7" cy="1858.9" r="2.3" fill="#000" opacity="0.95" filter="url(#d1)"/>
<circle cx="690.3" cy="1867" r="2" fill="#000" opacity="0.9" filter="url(#d1)"/>
<circle cx="697.9" cy="1872" r="1.9" fill="#000" opacity="0.9" filter="url(#d1)"/>
<circle cx="733" cy="1877" r="2.6" fill="#000" opacity="0.95" filter="url(#d1)"/>
<circle cx="847" cy="1855" r="1.5" fill="#000" opacity="0.8" filter="url(#d1)"/>
<circle cx="871" cy="1844.7" r="1.3" fill="#000" opacity="0.55" filter="url(#d1)"/>
<circle cx="910.5" cy="1863.3" r="1.4" fill="#000" opacity="0.5" filter="url(#d1)"/>
<circle cx="868.8" cy="1874.3" r="1.3" fill="#000" opacity="0.5" filter="url(#d1)"/>
<circle cx="752" cy="1825" r="1.2" fill="#000" opacity="0.45" filter="url(#d1)"/>
<circle cx="989.4" cy="1795.4" r="1.8" fill="#000" opacity="0.9" filter="url(#d1)"/>
<circle cx="938.4" cy="1847.4" r="1.9" fill="#000" opacity="0.9" filter="url(#d1)"/>
<circle cx="364" cy="1808" r="1.2" fill="#000" opacity="0.5" filter="url(#d1)"/>
<circle cx="347" cy="1808" r="1.1" fill="#000" opacity="0.4" filter="url(#d1)"/>
</g>
<path d="M233.7 1779.4H1018V1882.5H233.7Z M237.89999999999998 1782.2V1878.1H1014.8V1782.2Z" fill="#1c1c1c" fill-rule="evenodd"/>
<clipPath id="ce2"><rect x="230.8" y="1897.4" width="785.8" height="76.0"/></clipPath>
<g clip-path="url(#ce2)">
<rect x="230.80" y="1897.40" width="785.80" height="76.00" fill="url(#ge2)" stroke="none" stroke-width="0" rx="0" />
<rect x="242.0" y="1908.0" width="58.0" height="7.0" rx="3.5" fill="#000" opacity="0.2" filter="url(#b2)"/>
<rect x="302.2" y="1906.0" width="11.0" height="11.0" rx="5.5" fill="#000" opacity="0.25" filter="url(#b2)"/>
<rect x="329.0" y="1908.5" width="58.0" height="6.0" rx="3.0" fill="#000" opacity="0.1" filter="url(#b2)"/>
<rect x="413.0" y="1908.5" width="60.0" height="6.0" rx="3.0" fill="#000" opacity="0.09" filter="url(#b2)"/>
<rect x="243.0" y="1932.0" width="66.0" height="18.5" rx="9.2" fill="#000" opacity="1" filter="url(#b2)"/>
<rect x="326.7" y="1935.5" width="64.0" height="12.5" rx="6.2" fill="#000" opacity="0.97" filter="url(#b2)"/>
<rect x="409.4" y="1934.8" width="68.0" height="12.5" rx="6.2" fill="#000" opacity="0.97" filter="url(#b2)"/>
<rect x="498.0" y="1934.4" width="66.0" height="8.0" rx="4.0" fill="#000" opacity="0.62" filter="url(#b2)"/>
<rect x="587.0" y="1934.8" width="67.0" height="7.5" rx="3.8" fill="#000" opacity="0.56" filter="url(#b2)"/>
<rect x="677.0" y="1930.8" width="66.0" height="7.5" rx="3.8" fill="#000" opacity="0.6" filter="url(#b2)" transform="rotate(-1.5 710 1934.6)"/>
<rect x="762.5" y="1925.8" width="66.0" height="15.5" rx="7.8" fill="#000" opacity="1" filter="url(#b2)" transform="rotate(-1 795.5 1933.6)"/>
<rect x="846.0" y="1919.2" width="74.0" height="14.5" rx="7.2" fill="#000" opacity="1" filter="url(#b2)" transform="rotate(-2.5 883 1926.5)"/>
<rect x="933.4" y="1915.0" width="66.0" height="14.5" rx="7.2" fill="#000" opacity="1" filter="url(#b2)" transform="rotate(-1 966.4 1922.2)"/>
<rect x="945.5" y="1934.0" width="9.0" height="12.0" rx="6.0" fill="#000" opacity="0.1" filter="url(#b2)" transform="rotate(25 950 1940)"/>
<rect x="938.0" y="1951.0" width="60.0" height="4.0" rx="2.0" fill="#000" opacity="0.05" filter="url(#b2)"/>
<rect x="859.0" y="1957.0" width="50.0" height="4.0" rx="2.0" fill="#000" opacity="0.05" filter="url(#b2)"/>
<rect x="798.0" y="1899.0" width="14.0" height="12.0" rx="6.0" fill="#000" opacity="0.0" filter="url(#b2)"/>
</g>
<rect x="232.00" y="1898.60" width="783.40" height="73.60" fill="none" stroke="#0a0a0a" stroke-width="2.4" rx="0" />
<line x1="487.20" y1="1896.40" x2="487.20" y2="1900.90" stroke="#0a0a0a" stroke-width="1.6" stroke-linecap="butt"/>
<line x1="487.20" y1="1969.90" x2="487.20" y2="1974.40" stroke="#0a0a0a" stroke-width="1.6" stroke-linecap="butt"/>
<line x1="744.50" y1="1896.40" x2="744.50" y2="1900.90" stroke="#0a0a0a" stroke-width="1.6" stroke-linecap="butt"/>
<line x1="744.50" y1="1969.90" x2="744.50" y2="1974.40" stroke="#0a0a0a" stroke-width="1.6" stroke-linecap="butt"/>
</svg></body></html>
